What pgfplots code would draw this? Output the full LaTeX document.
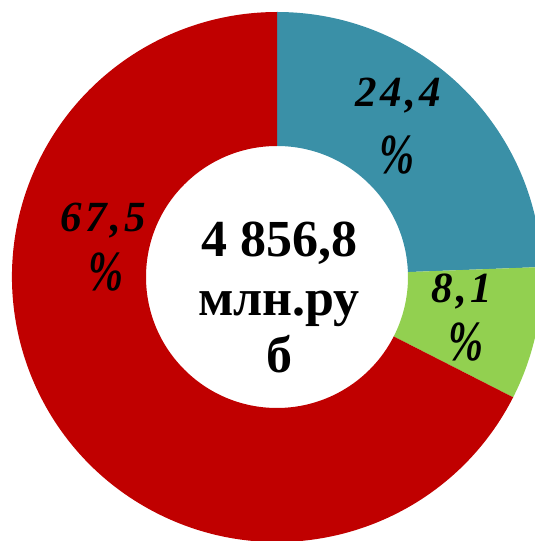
\documentclass[border=0pt]{standalone}
\usepackage{fontspec}
\setmainfont{Liberation Serif}
\usepackage{pgfplots}
\usepackage{pgfplotstable}
\pgfplotsset{compat=1.18}
\definecolor{TEAL}{HTML}{3A90A7}
\definecolor{LIME}{HTML}{92D050}
\definecolor{DRED}{HTML}{C00000}

% shares of the total, clockwise from the top
\pgfplotstableread{
share
24.4
8.1
67.5
}\shares
\pgfplotstablegetelem{0}{share}\of\shares \let\sA\pgfplotsretval
\pgfplotstablegetelem{1}{share}\of\shares \let\sB\pgfplotsretval
\pgfplotstablegetelem{2}{share}\of\shares \let\sC\pgfplotsretval
\pgfmathsetmacro\aA{90}
\pgfmathsetmacro\aB{\aA-3.6*\sA}
\pgfmathsetmacro\aC{\aB-3.6*\sB}
\pgfmathsetmacro\aD{\aC-3.6*\sC}

% centre and radii, in axis units (1 unit = 1pt)
\def\cx{277}\def\cy{264}\def\Ro{265}\def\Ri{131}

\newcommand{\ring}[3]{%
  \fill[#3] (axis cs:{\cx+\Ro*cos(#1)},{\cy+\Ro*sin(#1)})
    arc[start angle=#1, end angle=#2, radius=\Ro pt]
    -- (axis cs:{\cx+\Ri*cos(#2)},{\cy+\Ri*sin(#2)})
    arc[start angle=#2, end angle=#1, radius=\Ri pt] -- cycle;}

\newcommand{\lab}[1]{{\fontsize{43}{43}\selectfont\bfseries\itshape\addfontfeatures{LetterSpace=8}#1}}
\newcommand{\pct}{{\fontsize{42}{42}\selectfont\bfseries\itshape\scalebox{1}[1.35]{\%}}}

\begin{document}
\begin{tikzpicture}
\begin{axis}[
  scale only axis, width=535pt, height=541pt,
  xmin=0, xmax=535, ymin=0, ymax=541,
  hide axis, clip=true,
]
\ring{\aA}{\aB}{TEAL}
\ring{\aB}{\aC}{LIME}
\ring{\aC}{\aD}{DRED}

\node[anchor=base] at (axis cs:398,434) {\lab{24,4}};
\node at (axis cs:397,386) {\pct};
\node[anchor=base] at (axis cs:462,238) {\lab{8,1}};
\node at (axis cs:466,199) {\pct};
\node[anchor=base] at (axis cs:103,309) {\lab{67,5}};
\node at (axis cs:106,269) {\pct};

\node[anchor=base, font=\fontsize{52}{52}\selectfont\bfseries] at (axis cs:279,284) {4 856,8};
\node[anchor=base, font=\fontsize{52}{52}\selectfont\bfseries] at (axis cs:279,225) {млн.ру};
\node[anchor=base, font=\fontsize{52}{52}\selectfont\bfseries] at (axis cs:279,168) {б};
\end{axis}
\pgfresetboundingbox
\path (0,0) rectangle (535pt,541pt);
\end{tikzpicture}
\end{document}
